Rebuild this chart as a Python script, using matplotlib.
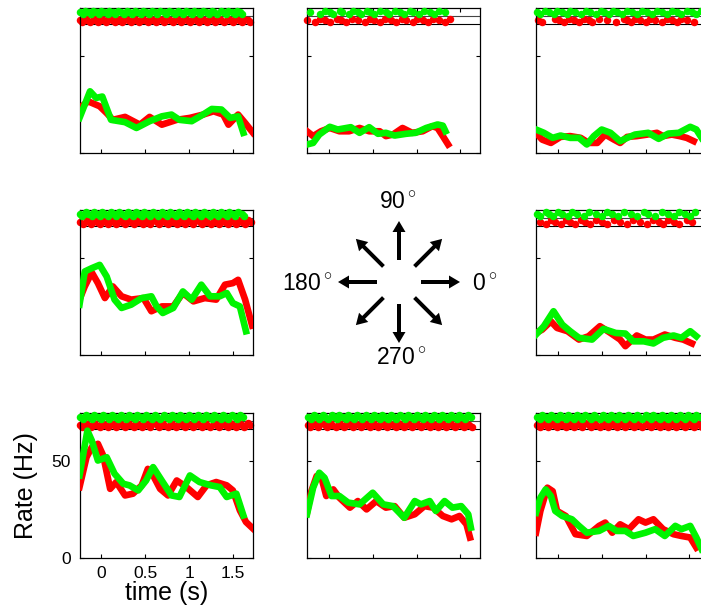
import matplotlib
matplotlib.use('Agg')
import math
import matplotlib.pyplot as plt
from matplotlib.patches import FancyArrow

plt.rcParams['font.family'] = ['Liberation Sans', 'DejaVu Sans']
plt.rcParams['mathtext.fontset'] = 'custom'
plt.rcParams['mathtext.rm'] = 'Liberation Sans'

RED = '#ff0000'
GREEN = '#00f400'

# ---------------- data: smoothed rates (time s, rate Hz) ----------------
# 135 deg (top-left)
p135_red_t = [-0.25, -0.15, -0.02, 0.06, 0.13, 0.27, 0.44, 0.55, 0.69, 0.86, 1.01, 1.16, 1.28, 1.39, 1.45, 1.56, 1.64, 1.73]
p135_red_r = [23.1, 26.5, 24.0, 20.5, 17.0, 18.5, 14.5, 18.5, 14.5, 17.0, 18.0, 19.7, 21.4, 19.7, 14.5, 19.7, 15.4, 10.3]
p135_green_t = [-0.25, -0.13, -0.06, 0.01, 0.11, 0.27, 0.40, 0.55, 0.69, 0.80, 0.89, 1.03, 1.16, 1.26, 1.37, 1.47, 1.56, 1.62]
p135_green_r = [18.0, 31.7, 28.3, 29.0, 17.0, 15.8, 12.8, 16.3, 18.8, 19.7, 17.0, 16.3, 19.7, 22.6, 22.3, 18.0, 18.8, 10.3]
# 90 deg (top-middle)
p90_red_t = [-0.25, -0.18, -0.09, 0.01, 0.12, 0.23, 0.35, 0.46, 0.58, 0.65, 0.73, 0.84, 0.95, 1.07, 1.18, 1.24, 1.30, 1.36]
p90_red_r = [11.1, 8.6, 11.1, 12.8, 11.1, 11.1, 12.8, 11.1, 11.1, 8.6, 9.4, 12.8, 10.3, 11.1, 13.7, 12.8, 8.6, 4.3]
p90_green_t = [-0.25, -0.18, -0.11, 0.01, 0.10, 0.25, 0.35, 0.46, 0.56, 0.65, 0.75, 0.88, 0.99, 1.11, 1.24, 1.30, 1.33]
p90_green_r = [4.3, 5.1, 9.4, 13.4, 12.0, 13.2, 10.3, 13.2, 9.8, 10.3, 8.9, 9.8, 10.3, 12.8, 14.6, 14.0, 11.1]
# 45 deg (top-right)
p45_red_t = [-0.25, -0.18, -0.08, 0.03, 0.14, 0.26, 0.35, 0.45, 0.54, 0.64, 0.71, 0.79, 0.90, 1.02, 1.13, 1.20, 1.30, 1.39, 1.47, 1.55]
p45_red_r = [10.3, 6.8, 5.1, 8.2, 8.6, 7.7, 5.1, 5.1, 9.4, 6.8, 5.1, 8.2, 8.6, 9.4, 10.3, 8.6, 9.4, 8.6, 7.7, 6.0]
p45_green_t = [-0.25, -0.16, -0.06, 0.03, 0.14, 0.24, 0.33, 0.41, 0.50, 0.60, 0.71, 0.79, 0.88, 1.03, 1.15, 1.26, 1.38, 1.51, 1.58, 1.64]
p45_green_r = [12.0, 10.3, 7.7, 8.9, 7.7, 7.7, 4.3, 8.6, 12.0, 10.3, 6.0, 7.7, 9.4, 10.3, 7.2, 9.9, 10.3, 13.4, 12.0, 7.7]
# 180 deg (middle-left)
p180_red_t = [-0.25, -0.19, -0.11, -0.04, 0.04, 0.13, 0.23, 0.34, 0.48, 0.57, 0.69, 0.82, 0.93, 1.05, 1.18, 1.31, 1.41, 1.50, 1.56, 1.64, 1.72]
p180_red_r = [28.3, 35.1, 42.3, 36.8, 29.1, 35.1, 30.0, 28.3, 29.1, 22.3, 24.8, 24.8, 31.7, 27.4, 29.1, 28.3, 36.0, 36.8, 38.5, 28.3, 14.9]
p180_green_t = [-0.25, -0.19, -0.11, -0.02, 0.06, 0.15, 0.23, 0.34, 0.46, 0.57, 0.63, 0.70, 0.82, 0.93, 1.03, 1.14, 1.24, 1.35, 1.43, 1.50, 1.58, 1.65]
p180_green_r = [25.7, 42.8, 44.5, 46.2, 40.2, 28.3, 24.0, 25.7, 29.1, 30.0, 24.8, 21.4, 24.0, 32.5, 28.3, 36.0, 30.0, 30.0, 31.7, 26.5, 24.8, 12.0]
# 0 deg (middle-right)
p0_red_t = [-0.25, -0.18, -0.08, -0.01, 0.11, 0.24, 0.35, 0.48, 0.60, 0.71, 0.77, 0.90, 1.00, 1.09, 1.22, 1.34, 1.43, 1.53]
p0_red_r = [11.1, 12.8, 17.1, 13.7, 12.0, 7.7, 9.4, 14.6, 11.1, 7.7, 4.3, 9.8, 7.7, 7.7, 10.3, 8.6, 7.7, 5.7]
p0_green_t = [-0.25, -0.16, -0.05, 0.05, 0.14, 0.24, 0.39, 0.52, 0.66, 0.77, 0.86, 0.98, 1.09, 1.20, 1.32, 1.41, 1.51, 1.58]
p0_green_r = [10.3, 14.6, 22.3, 15.4, 12.0, 8.6, 7.7, 13.2, 11.1, 10.8, 6.8, 6.8, 5.7, 8.6, 9.8, 8.6, 12.0, 9.4]
# 225 deg (bottom-left)
p225_red_t = [-0.25, -0.17, -0.11, -0.04, 0.02, 0.10, 0.17, 0.27, 0.36, 0.46, 0.53, 0.59, 0.67, 0.76, 0.86, 0.97, 1.10, 1.20, 1.31, 1.43, 1.50, 1.58, 1.65, 1.73]
p225_red_r = [36.3, 51.7, 56.8, 58.6, 52.6, 35.4, 38.9, 32.0, 32.9, 37.2, 45.7, 42.3, 35.4, 32.0, 39.7, 36.3, 31.2, 37.2, 38.9, 37.2, 34.6, 24.3, 18.3, 14.9]
p225_green_t = [-0.25, -0.20, -0.16, -0.11, -0.04, 0.06, 0.15, 0.25, 0.32, 0.42, 0.51, 0.59, 0.70, 0.80, 0.89, 1.01, 1.12, 1.25, 1.35, 1.43, 1.54, 1.62]
p225_green_r = [42.3, 55.1, 65.4, 60.3, 50.0, 51.7, 43.2, 38.0, 37.2, 34.6, 39.7, 46.6, 38.9, 32.0, 31.2, 42.3, 38.9, 37.2, 36.3, 31.2, 32.9, 21.7]
# 270 deg (bottom-middle)
p270_red_t = [-0.25, -0.20, -0.14, -0.09, -0.03, 0.05, 0.12, 0.24, 0.33, 0.43, 0.54, 0.65, 0.75, 0.86, 0.98, 1.09, 1.19, 1.30, 1.40, 1.49, 1.57, 1.61]
p270_red_r = [23.1, 34.2, 42.0, 42.0, 31.7, 35.1, 30.8, 25.7, 29.1, 24.8, 29.1, 25.7, 26.5, 20.5, 22.3, 26.5, 25.7, 21.4, 19.7, 21.4, 17.1, 10.3]
p270_green_t = [-0.25, -0.18, -0.11, -0.05, 0.03, 0.12, 0.22, 0.35, 0.50, 0.62, 0.73, 0.86, 0.98, 1.05, 1.15, 1.22, 1.32, 1.41, 1.51, 1.59, 1.62]
p270_green_r = [22.3, 36.0, 43.7, 41.1, 31.7, 31.7, 28.3, 27.4, 33.4, 27.4, 26.5, 20.5, 29.1, 27.4, 29.1, 24.0, 29.1, 25.7, 26.5, 22.3, 15.4]
# 315 deg (bottom-right)
p315_red_t = [-0.25, -0.20, -0.12, -0.06, -0.01, 0.09, 0.20, 0.33, 0.47, 0.54, 0.62, 0.71, 0.81, 0.92, 1.00, 1.09, 1.20, 1.32, 1.41, 1.51, 1.58]
p315_red_r = [12.8, 24.0, 36.0, 34.2, 24.0, 21.4, 12.0, 11.1, 16.3, 18.0, 12.8, 17.1, 14.6, 19.7, 18.0, 19.7, 14.6, 12.0, 11.1, 10.3, 5.1]
p315_green_t = [-0.25, -0.20, -0.14, -0.08, -0.03, 0.05, 0.16, 0.24, 0.33, 0.47, 0.58, 0.67, 0.77, 0.86, 1.00, 1.11, 1.22, 1.34, 1.41, 1.51, 1.58, 1.64]
p315_green_r = [23.1, 30.8, 35.1, 31.7, 24.0, 21.4, 19.7, 16.3, 12.8, 13.7, 16.3, 13.7, 13.7, 11.1, 12.8, 14.6, 11.1, 16.3, 14.6, 16.3, 10.3, 4.3]

# ---------------- data: spike times (s) for rasters ----------------
p135_green_spk = [-0.24, -0.21, -0.19, -0.15, -0.12, -0.10, -0.06, -0.03, 0.00, 0.03, 0.07, 0.09, 0.13, 0.16, 0.19, 0.22, 0.26, 0.29, 0.31, 0.35, 0.38, 0.41, 0.45, 0.48, 0.51, 0.54, 0.58, 0.61, 0.64, 0.67, 0.71, 0.74, 0.77, 0.80, 0.84, 0.87, 0.90, 0.93, 0.97, 1.00, 1.03, 1.06, 1.10, 1.13, 1.16, 1.19, 1.23, 1.26, 1.29, 1.32, 1.36, 1.39, 1.42, 1.45, 1.49, 1.52, 1.55, 1.58, 1.61]
p135_red_spk = [-0.24, -0.22, -0.18, -0.16, -0.13, -0.09, -0.07, -0.04, -0.01, 0.02, 0.05, 0.08, 0.12, 0.15, 0.18, 0.21, 0.24, 0.27, 0.30, 0.34, 0.37, 0.40, 0.43, 0.46, 0.49, 0.53, 0.56, 0.59, 0.62, 0.66, 0.69, 0.72, 0.75, 0.78, 0.82, 0.85, 0.88, 0.91, 0.95, 0.98, 1.01, 1.04, 1.08, 1.11, 1.14, 1.17, 1.21, 1.24, 1.27, 1.30, 1.34, 1.37, 1.40, 1.44, 1.47, 1.50, 1.53, 1.57, 1.60, 1.63, 1.67, 1.70]
p90_green_spk = [-0.22, -0.10, -0.05, 0.01, 0.05, 0.13, 0.15, 0.23, 0.28, 0.33, 0.37, 0.43, 0.47, 0.52, 0.58, 0.65, 0.69, 0.75, 0.81, 0.86, 0.92, 0.96, 1.03, 1.09, 1.15, 1.20, 1.26, 1.32]
p90_red_spk = [-0.25, -0.16, -0.10, -0.05, 0.01, 0.09, 0.14, 0.20, 0.26, 0.33, 0.41, 0.47, 0.52, 0.58, 0.64, 0.71, 0.77, 0.83, 0.88, 0.96, 1.01, 1.07, 1.13, 1.19, 1.26, 1.32, 1.38]
p45_green_spk = [-0.24, -0.20, -0.15, -0.10, -0.05, -0.01, 0.05, 0.10, 0.14, 0.20, 0.26, 0.32, 0.37, 0.43, 0.49, 0.53, 0.58, 0.63, 0.67, 0.73, 0.79, 0.85, 0.90, 0.96, 1.02, 1.07, 1.13, 1.19, 1.24, 1.30, 1.36, 1.41, 1.47, 1.53, 1.58, 1.63, 1.68]
p45_red_spk = [-0.23, -0.18, -0.03, 0.01, 0.07, 0.13, 0.18, 0.24, 0.30, 0.35, 0.39, 0.47, 0.56, 0.66, 0.75, 0.79, 0.83, 0.88, 0.94, 1.00, 1.05, 1.11, 1.19, 1.24, 1.30, 1.36, 1.41, 1.47, 1.55]
p180_green_spk = [-0.24, -0.22, -0.18, -0.15, -0.11, -0.08, -0.05, -0.02, 0.01, 0.04, 0.08, 0.11, 0.14, 0.17, 0.20, 0.24, 0.27, 0.30, 0.33, 0.36, 0.40, 0.43, 0.46, 0.49, 0.53, 0.56, 0.59, 0.62, 0.65, 0.69, 0.72, 0.75, 0.78, 0.82, 0.85, 0.88, 0.91, 0.94, 0.98, 1.01, 1.04, 1.07, 1.11, 1.14, 1.17, 1.20, 1.24, 1.27, 1.30, 1.33, 1.37, 1.40, 1.43, 1.46, 1.50, 1.53, 1.56, 1.60, 1.63]
p180_red_spk = [-0.24, -0.21, -0.17, -0.14, -0.12, -0.08, -0.05, -0.02, 0.01, 0.05, 0.08, 0.11, 0.14, 0.17, 0.21, 0.24, 0.27, 0.30, 0.34, 0.37, 0.40, 0.43, 0.47, 0.50, 0.53, 0.56, 0.60, 0.63, 0.66, 0.69, 0.73, 0.76, 0.79, 0.82, 0.86, 0.89, 0.92, 0.95, 0.99, 1.02, 1.05, 1.08, 1.12, 1.15, 1.18, 1.21, 1.25, 1.28, 1.31, 1.34, 1.38, 1.41, 1.44, 1.47, 1.51, 1.54, 1.57, 1.61, 1.64, 1.67, 1.71]
p0_green_spk = [-0.24, -0.20, -0.14, -0.10, -0.06, 0.00, 0.05, 0.11, 0.16, 0.22, 0.30, 0.35, 0.43, 0.50, 0.56, 0.62, 0.69, 0.75, 0.83, 0.90, 0.98, 1.03, 1.11, 1.19, 1.26, 1.32, 1.38, 1.45, 1.51, 1.57]
p0_red_spk = [-0.20, -0.14, -0.08, -0.03, 0.03, 0.09, 0.14, 0.20, 0.26, 0.31, 0.37, 0.43, 0.50, 0.56, 0.64, 0.71, 0.79, 0.86, 0.94, 1.02, 1.09, 1.15, 1.20, 1.26, 1.32, 1.38, 1.47, 1.53]
p225_green_spk = [-0.24, -0.21, -0.18, -0.14, -0.11, -0.08, -0.04, -0.01, 0.02, 0.06, 0.09, 0.12, 0.15, 0.19, 0.22, 0.25, 0.28, 0.32, 0.35, 0.38, 0.41, 0.45, 0.48, 0.51, 0.54, 0.58, 0.61, 0.64, 0.67, 0.71, 0.74, 0.77, 0.80, 0.84, 0.87, 0.90, 0.93, 0.97, 1.00, 1.03, 1.06, 1.10, 1.13, 1.16, 1.19, 1.23, 1.26, 1.29, 1.32, 1.36, 1.39, 1.42, 1.45, 1.49, 1.52, 1.55, 1.58, 1.62]
p225_red_spk = [-0.24, -0.22, -0.19, -0.15, -0.12, -0.09, -0.06, -0.02, 0.01, 0.04, 0.07, 0.11, 0.14, 0.17, 0.20, 0.24, 0.27, 0.30, 0.33, 0.37, 0.40, 0.43, 0.46, 0.50, 0.53, 0.56, 0.59, 0.63, 0.66, 0.69, 0.72, 0.76, 0.79, 0.82, 0.85, 0.89, 0.92, 0.95, 0.98, 1.02, 1.05, 1.08, 1.11, 1.15, 1.18, 1.21, 1.24, 1.28, 1.31, 1.34, 1.37, 1.41, 1.44, 1.47, 1.50, 1.54, 1.57, 1.60, 1.63, 1.67, 1.70]
p270_green_spk = [-0.24, -0.21, -0.17, -0.14, -0.11, -0.07, -0.04, -0.01, 0.03, 0.06, 0.09, 0.12, 0.16, 0.19, 0.22, 0.25, 0.29, 0.32, 0.35, 0.38, 0.42, 0.45, 0.48, 0.51, 0.55, 0.58, 0.61, 0.64, 0.68, 0.71, 0.74, 0.77, 0.81, 0.84, 0.87, 0.90, 0.94, 0.97, 1.00, 1.03, 1.07, 1.10, 1.13, 1.16, 1.20, 1.23, 1.26, 1.29, 1.33, 1.36, 1.39, 1.42, 1.46, 1.49, 1.52, 1.55, 1.59, 1.62]
p270_red_spk = [-0.24, -0.22, -0.18, -0.15, -0.12, -0.09, -0.05, -0.02, 0.01, 0.04, 0.08, 0.11, 0.14, 0.17, 0.21, 0.24, 0.27, 0.30, 0.34, 0.37, 0.40, 0.43, 0.47, 0.50, 0.53, 0.56, 0.60, 0.63, 0.66, 0.69, 0.73, 0.76, 0.79, 0.82, 0.86, 0.89, 0.92, 0.95, 0.99, 1.02, 1.05, 1.08, 1.12, 1.15, 1.18, 1.21, 1.25, 1.28, 1.31, 1.34, 1.38, 1.41, 1.44, 1.47, 1.51, 1.54, 1.57, 1.60, 1.63]
p315_green_spk = [-0.24, -0.21, -0.18, -0.14, -0.11, -0.08, -0.05, -0.01, 0.02, 0.05, 0.09, 0.12, 0.15, 0.18, 0.22, 0.25, 0.28, 0.31, 0.35, 0.38, 0.41, 0.44, 0.48, 0.51, 0.54, 0.57, 0.61, 0.64, 0.67, 0.70, 0.74, 0.77, 0.80, 0.83, 0.87, 0.90, 0.93, 0.96, 1.00, 1.03, 1.06, 1.09, 1.13, 1.16, 1.19, 1.22, 1.26, 1.29, 1.32, 1.35, 1.39, 1.42, 1.45, 1.48, 1.52, 1.55, 1.58, 1.62]
p315_red_spk = [-0.24, -0.21, -0.17, -0.14, -0.11, -0.08, -0.04, -0.01, 0.02, 0.05, 0.09, 0.12, 0.15, 0.18, 0.22, 0.25, 0.28, 0.31, 0.35, 0.38, 0.41, 0.44, 0.48, 0.51, 0.54, 0.57, 0.61, 0.64, 0.67, 0.70, 0.74, 0.77, 0.80, 0.83, 0.87, 0.90, 0.93, 0.96, 1.00, 1.03, 1.06, 1.09, 1.13, 1.16, 1.19, 1.22, 1.26, 1.29, 1.32, 1.35, 1.39, 1.42, 1.45, 1.48, 1.52, 1.55, 1.58, 1.62, 1.65, 1.68]

# direction arrows
arrow_angles = [0, 45, 90, 135, 180, 225, 270, 315]
angle_labels = ['0$^\\circ$', '90$^\\circ$', '180$^\\circ$', '270$^\\circ$']

XTICKS = [0, 0.5, 1, 1.5]
YTICKS = [0, 50]
XTICKLABELS = ['0', '0.5', '1', '1.5']
YTICKLABELS = ['0', '50']

W, H = 701, 613
fig = plt.figure(figsize=(W / 100, H / 100), dpi=100)

col_x = [79.5, 307, 536]
row_y = [8.3, 210, 413]
AW, AH = 173.5, 144.5

panels = {
    (0, 0): (p135_red_t, p135_red_r, p135_green_t, p135_green_r, p135_red_spk, p135_green_spk),
    (0, 1): (p90_red_t, p90_red_r, p90_green_t, p90_green_r, p90_red_spk, p90_green_spk),
    (0, 2): (p45_red_t, p45_red_r, p45_green_t, p45_green_r, p45_red_spk, p45_green_spk),
    (1, 0): (p180_red_t, p180_red_r, p180_green_t, p180_green_r, p180_red_spk, p180_green_spk),
    (1, 2): (p0_red_t, p0_red_r, p0_green_t, p0_green_r, p0_red_spk, p0_green_spk),
    (2, 0): (p225_red_t, p225_red_r, p225_green_t, p225_green_r, p225_red_spk, p225_green_spk),
    (2, 1): (p270_red_t, p270_red_r, p270_green_t, p270_green_r, p270_red_spk, p270_green_spk),
    (2, 2): (p315_red_t, p315_red_r, p315_green_t, p315_green_r, p315_red_spk, p315_green_spk),
}

offs = [0.0, -0.9, 0.9]
for (r, c), (rt, rr, gt, gr, rs, gs) in panels.items():
    x0, y0 = col_x[c], row_y[r]
    ax = fig.add_axes([x0 / W, 1 - (y0 + AH) / H, AW / W, AH / H])
    ax.set_xlim(-0.25, 1.73)
    ax.set_ylim(0, 74.5)
    ax.axhline(66.3, color='black', lw=0.8, zorder=1)
    ax.axhline(70.4, color='#444444', lw=0.8, zorder=1)
    ax.plot(rs, [68.3 + offs[i % 3] for i in range(len(rs))], 'o', color=RED,
            ms=5.4, mew=0, zorder=2, clip_on=False)
    ax.plot(gs, [72.4 + offs[i % 3] for i in range(len(gs))], 'o', color=GREEN,
            ms=5.4, mew=0, zorder=3, clip_on=False)
    ax.plot(rt, rr, color=RED, lw=4.8, solid_joinstyle='round', zorder=4)
    ax.plot(gt, gr, color=GREEN, lw=4.8, solid_joinstyle='round', zorder=5)
    ax.set_xticks(XTICKS)
    ax.set_yticks(YTICKS)
    ax.tick_params(direction='in', top=True, right=True, length=3, width=0.8,
                   labelsize=12.5, pad=6)
    for s in ax.spines.values():
        s.set_linewidth(0.9)
    if (r, c) == (2, 0):
        ax.set_xticklabels(XTICKLABELS)
        ax.set_yticklabels(YTICKLABELS)
        ax.set_xlabel('time (s)', fontsize=18, labelpad=0)
        ax.set_ylabel('Rate (Hz)', fontsize=18, labelpad=10)
    else:
        ax.tick_params(labelbottom=False, labelleft=False)

# center: arrows showing movement directions (pixel coordinates)
axc = fig.add_axes([0, 0, 1, 1], zorder=10)
axc.set_xlim(0, W)
axc.set_ylim(H, 0)
axc.axis('off')
axc.patch.set_alpha(0)
cx, cy = 399, 282
r0, r1 = 22, 61
for a in arrow_angles:
    dx, dy = math.cos(math.radians(a)), -math.sin(math.radians(a))
    axc.add_patch(FancyArrow(cx + r0 * dx, cy + r0 * dy, (r1 - r0) * dx, (r1 - r0) * dy,
                             width=4.0, head_width=13, head_length=11,
                             length_includes_head=True, color='black', lw=0))
axc.text(472, 284, angle_labels[0], ha='left', va='center', fontsize=16.5)
axc.text(398, 202, angle_labels[1], ha='center', va='center', fontsize=16.5)
axc.text(333, 284, angle_labels[2], ha='right', va='center', fontsize=16.5)
axc.text(401, 357, angle_labels[3], ha='center', va='center', fontsize=16.5)

fig.savefig('out.png', dpi=100)
